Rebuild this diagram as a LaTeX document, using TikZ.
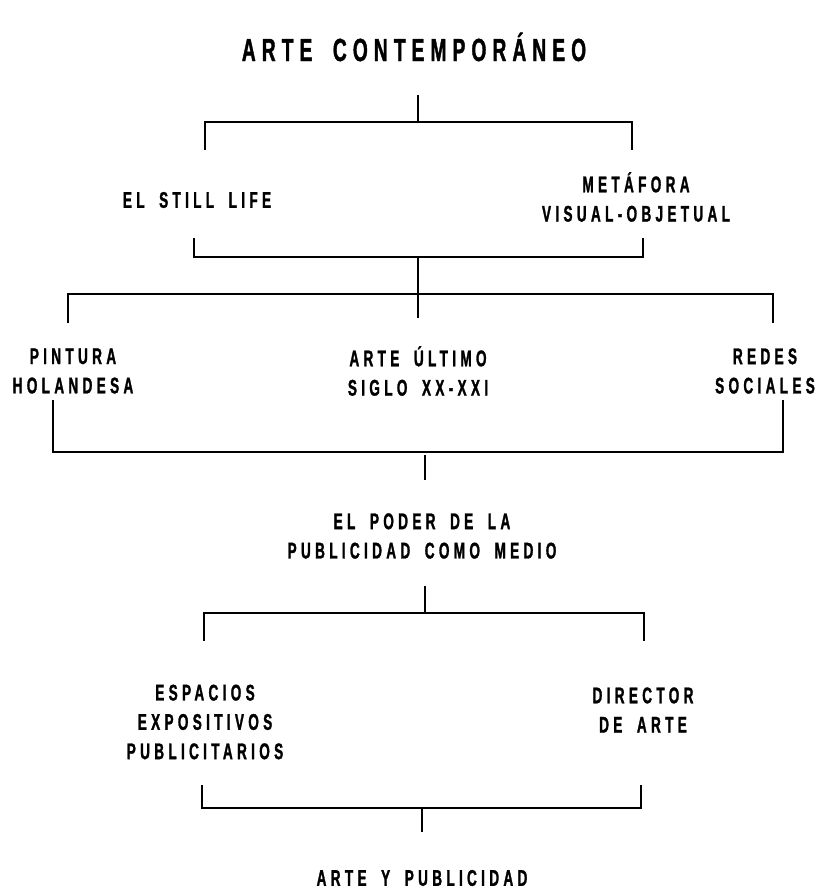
\documentclass[tikz,border=0pt]{standalone}
\usepackage{fontspec}
\newfontfamily\labelfont{Liberation Sans}[FakeStretch=0.6,LetterSpace=19,WordSpace=1.8,FakeBold=1.2]
\tikzset{
  etiqueta/.style={font=\labelfont\bfseries\fontsize{17}{22}\selectfont, align=center, inner sep=0pt},
  titulo/.style={font=\labelfont\bfseries\fontsize{24}{28}\selectfont, inner sep=0pt},
  llave/.style={line width=1.4pt}
}
\begin{document}
\begin{tikzpicture}[x=0.75pt,y=-0.75pt]
            \useasboundingbox (0,0) rectangle (828,891);
            % textos
            \node[titulo] (arte) at (414,47) {ARTE CONTEMPORÁNEO};
            \node[etiqueta] (still) at (197,200) {EL STILL LIFE};
            \node[etiqueta] (metafora) at (636,197) {METÁFORA\\VISUAL-OBJETUAL};
            \node[etiqueta] (pintura) at (73,371) {PINTURA\\HOLANDESA};
            \node[etiqueta] (ultimo) at (418,371) {ARTE ÚLTIMO\\SIGLO XX-XXI};
            \node[etiqueta] (redes) at (765,371) {REDES\\SOCIALES};
            \node[etiqueta] (poder) at (422,536) {EL PODER DE LA\\PUBLICIDAD COMO MEDIO};
            \node[etiqueta] (espacios) at (205,722) {ESPACIOS\\EXPOSITIVOS\\PUBLICITARIOS};
            \node[etiqueta] (director) at (643,710) {DIRECTOR\\DE ARTE};
            \node[etiqueta] (final) at (422,878) {ARTE Y PUBLICIDAD};
            % llaves
            \coordinate (a1) at (418,95);
            \coordinate (a2) at (205,150);
            \coordinate (a3) at (632,150);
            \draw[llave] (a1) -- (418,122);
            \draw[llave] (a2) -- (205,122) -- (632,122) -- (a3);
            \coordinate (b1) at (194,238);
            \coordinate (b2) at (643,238);
            \coordinate (b3) at (418,318);
            \draw[llave] (b1) -- (194,257) -- (643,257) -- (b2);
            \draw[llave] (418,257) -- (b3);
            \coordinate (c1) at (68,323);
            \coordinate (c2) at (773,323);
            \draw[llave] (c1) -- (68,294) -- (773,294) -- (c2);
            \coordinate (d1) at (53,400);
            \coordinate (d2) at (783,400);
            \coordinate (d3) at (425,480);
            \draw[llave] (d1) -- (53,452) -- (783,452) -- (d2);
            \draw[llave] (425,455) -- (d3);
            \coordinate (e1) at (425,586);
            \coordinate (e2) at (204,641);
            \coordinate (e3) at (644,641);
            \draw[llave] (e1) -- (425,613);
            \draw[llave] (e2) -- (204,613) -- (644,613) -- (e3);
            \coordinate (f1) at (202,785);
            \coordinate (f2) at (641,785);
            \coordinate (f3) at (422,832);
            \draw[llave] (f1) -- (202,808) -- (641,808) -- (f2);
            \draw[llave] (422,808) -- (f3);
        \end{tikzpicture}
\end{document}
